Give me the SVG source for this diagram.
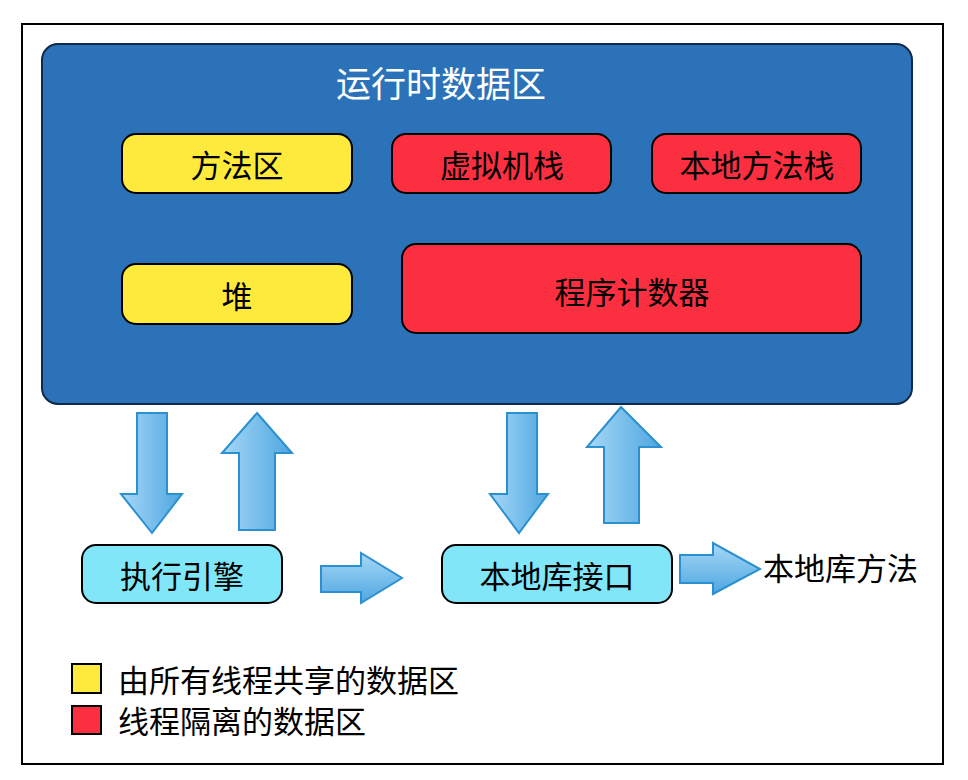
<svg xmlns="http://www.w3.org/2000/svg" width="968" height="780" viewBox="0 0 968 780">
<defs>
<linearGradient id="gv" x1="0" y1="0" x2="1" y2="0">
<stop offset="0" stop-color="#a6d8f7"/><stop offset="1" stop-color="#4ea6e0"/>
</linearGradient>
<linearGradient id="gh" x1="0" y1="0" x2="0" y2="1">
<stop offset="0" stop-color="#a6d8f7"/><stop offset="1" stop-color="#4ea6e0"/>
</linearGradient>
</defs>
<style>
text{font-family:"Noto Sans CJK SC","Liberation Sans",sans-serif;}
.lbl{font-size:31px;fill:#000;text-anchor:middle;dominant-baseline:central;}
.y{fill:#fdea3c;stroke:#000;stroke-width:2;}
.r{fill:#fc2f40;stroke:#000;stroke-width:2;}
.c{fill:#80e6f8;stroke:#000;stroke-width:2;}
.av{fill:url(#gv);stroke:#2b90d0;stroke-width:2;stroke-linejoin:miter;}
.ah{fill:url(#gh);stroke:#2b90d0;stroke-width:2;stroke-linejoin:miter;}
</style>
<rect width="968" height="780" fill="#fff"/>
<rect x="22" y="24" width="921" height="740" fill="none" stroke="#000" stroke-width="2"/>
<g id="runtime">
<rect x="42" y="44" width="870" height="360" rx="16" fill="#2c72b8" stroke="#0d2a4a" stroke-width="2"/>
<text x="441" y="81" font-size="35" fill="#fff" text-anchor="middle" dominant-baseline="central">运行时数据区</text>
</g>
<g id="method-area"><rect class="y" x="122" y="134" width="230" height="59" rx="14"/><text class="lbl" x="237" y="163">方法区</text></g>
<g id="vm-stack"><rect class="r" x="392" y="134" width="219" height="59" rx="14"/><text class="lbl" x="502" y="163">虚拟机栈</text></g>
<g id="native-stack"><rect class="r" x="652" y="134" width="209" height="59" rx="14"/><text class="lbl" x="757" y="163">本地方法栈</text></g>
<g id="heap"><rect class="y" x="122" y="264" width="230" height="60" rx="14"/><text class="lbl" x="237" y="294">堆</text></g>
<g id="pc"><rect class="r" x="402" y="244" width="459" height="89" rx="14"/><text class="lbl" x="632" y="290">程序计数器</text></g>
<g id="engine"><rect class="c" x="82" y="545" width="200" height="58" rx="14"/><text class="lbl" x="182" y="574">执行引擎</text></g>
<g id="native-if"><rect class="c" x="442" y="545" width="230" height="58" rx="14"/><text class="lbl" x="557" y="574">本地库接口</text></g>
<g id="native-method"><text x="763" y="566" font-size="31" fill="#000" dominant-baseline="central">本地库方法</text></g>
<g id="connectors">
<polygon class="av" points="137,413 167,413 167,494 182,494 152,533 121,494 137,494"/>
<polygon class="av" points="257,413 292,453 275,453 275,530 239,530 239,453 222,453"/>
<polygon class="av" points="507,413 537,413 537,494 548,494 519,533 490,494 507,494"/>
<polygon class="av" points="621,407 661,447 639,447 639,523 604,523 604,447 587,447"/>
<polygon class="ah" points="321,566 361,566 361,553 402,578 361,603 361,592 321,592"/>
<polygon class="ah" points="680,555 713,555 713,543 760,569 713,594 713,583 680,583"/>
</g>
<g id="legend">
<rect x="72" y="664" width="29" height="29" fill="#fdea3c" stroke="#000" stroke-width="2"/>
<text x="118" y="678" font-size="31" fill="#000" dominant-baseline="central">由所有线程共享的数据区</text>
<rect x="72" y="706" width="29" height="28" fill="#fc2f40" stroke="#000" stroke-width="2"/>
<text x="118" y="719" font-size="31" fill="#000" dominant-baseline="central">线程隔离的数据区</text>
</g>
</svg>
